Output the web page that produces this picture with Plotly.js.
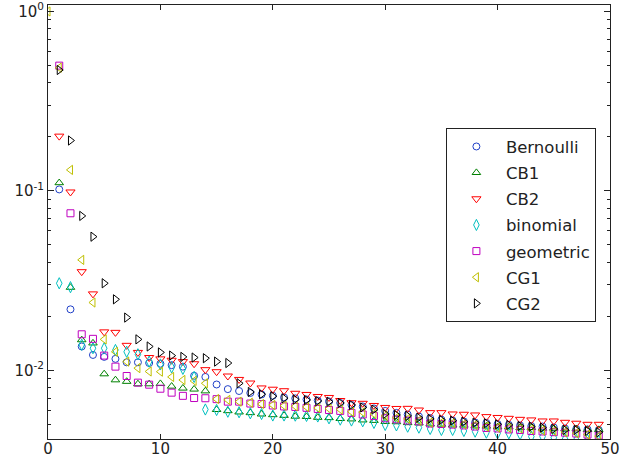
<!DOCTYPE html>
<html>
<head>
<meta charset="utf-8">
<script src="https://cdn.plot.ly/plotly-3.0.1.min.js"></script>
<style>html,body{margin:0;padding:0;background:#fff;}#chart{width:620px;height:458px;}</style>
</head>
<body>
<div id="chart"></div>
<script>
const lags = [1,2,3,4,5,6,7,8,9,10,11,12,13,14,15,16,17,18,19,20,21,22,23,24,25,26,27,28,29,30,31,32,33,34,35,36,37,38,39,40,41,42,43,44,45,46,47,48,49];
const lagsCG1 = [0,1,2,3,4,5,6,7,8,9,10,11,12,13,14,15,16,17,18,19,20,21,22,23,24,25,26,27,28,29,30,31,32,33,34,35,36,37,38,39,40,41,42,43,44,45,46,47,48,49];

const bernoulli = [0.102,0.0219,0.0136,0.0122,0.0119,0.0116,0.0111,0.0111,0.0110,0.0109,0.0107,0.0105,0.00934,0.00920,0.00835,0.00787,0.00768,0.00749,0.00735,0.00723,0.00707,0.00699,0.00689,0.00680,0.00672,0.00659,0.00642,0.00630,0.00614,0.00595,0.00580,0.00568,0.00554,0.00543,0.00532,0.00526,0.00520,0.00513,0.00510,0.00503,0.00498,0.00494,0.00490,0.00487,0.00481,0.00475,0.00472,0.00469,0.00466];
const cb1 = [0.111,0.0290,0.0148,0.0142,0.00956,0.00885,0.00868,0.00841,0.00841,0.00844,0.00816,0.00796,0.00786,0.00768,0.00605,0.00596,0.00586,0.00581,0.00571,0.00566,0.00561,0.00555,0.00553,0.00547,0.00545,0.00539,0.00536,0.00529,0.00526,0.00519,0.00517,0.00511,0.00509,0.00503,0.00501,0.00496,0.00495,0.00490,0.00489,0.00484,0.00484,0.00480,0.00480,0.00476,0.00476,0.00472,0.00472,0.00468,0.00468];
const cb2 = [0.202,0.0987,0.0355,0.0267,0.0164,0.0163,0.0138,0.0126,0.0118,0.0116,0.0114,0.0112,0.0109,0.0101,0.00984,0.00931,0.00891,0.00851,0.00799,0.00786,0.00771,0.00746,0.00735,0.00716,0.00707,0.00680,0.00661,0.00656,0.00638,0.00622,0.00614,0.00615,0.00602,0.00582,0.00582,0.00572,0.00570,0.00565,0.00553,0.00547,0.00541,0.00534,0.00530,0.00523,0.00523,0.00514,0.00508,0.00501,0.00501];
const binomial = [0.0306,0.0291,0.0139,0.0133,0.0133,0.0130,0.0127,0.0123,0.0112,0.0108,0.0104,0.0102,0.00920,0.00606,0.00602,0.00589,0.00585,0.00577,0.00572,0.00561,0.00561,0.00560,0.00558,0.00554,0.00541,0.00532,0.00526,0.00521,0.00510,0.00497,0.00494,0.00486,0.00480,0.00472,0.00466,0.00466,0.00460,0.00456,0.00450,0.00446,0.00446,0.00441,0.00428,0.00428,0.00422,0.00415,0.00410,0.00410,0.00405];
const geometric = [0.499,0.0751,0.0159,0.0150,0.0121,0.0105,0.00931,0.00855,0.00833,0.00791,0.00752,0.00722,0.00702,0.00700,0.00692,0.00670,0.00670,0.00654,0.00650,0.00638,0.00630,0.00626,0.00619,0.00610,0.00602,0.00595,0.00580,0.00568,0.00558,0.00541,0.00534,0.00526,0.00520,0.00506,0.00503,0.00499,0.00494,0.00487,0.00478,0.00475,0.00469,0.00466,0.00460,0.00457,0.00453,0.00450,0.00445,0.00439,0.00434];
const cg1 = [1.0,0.486,0.131,0.0413,0.0239,0.0149,0.0127,0.0112,0.0103,0.00987,0.00984,0.00920,0.00885,0.00874,0.00848,0.00693,0.00685,0.00670,0.00661,0.00650,0.00642,0.00636,0.00632,0.00626,0.00618,0.00612,0.00606,0.00589,0.00585,0.00572,0.00558,0.00545,0.00537,0.00525,0.00512,0.00512,0.00508,0.00501,0.00497,0.00486,0.00481,0.00478,0.00475,0.00469,0.00463,0.00460,0.00453,0.00447,0.00439,0.00430];
const cg2 = [0.472,0.191,0.0726,0.0556,0.0306,0.0249,0.0197,0.0149,0.0136,0.0126,0.0121,0.0119,0.0118,0.0117,0.0112,0.0110,0.00848,0.00759,0.00737,0.00718,0.00700,0.00689,0.00685,0.00676,0.00670,0.00659,0.00642,0.00622,0.00605,0.00572,0.00565,0.00558,0.00545,0.00537,0.00530,0.00525,0.00518,0.00512,0.00508,0.00501,0.00497,0.00490,0.00486,0.00480,0.00472,0.00466,0.00466,0.00460,0.00452];

const seriesNames = ['Bernoulli','CB1','CB2','binomial','geometric','CG1','CG2'];
const seriesX = [lags, lags, lags, lags, lags, lagsCG1, lags];
const seriesY = [bernoulli, cb1, cb2, binomial, geometric, cg1, cg2];
const colors = ['#2040c8','#008000','#ff0000','#00bfbf','#bf00bf','#bfbf00','#000000'];
const symbols = ['circle-open','triangle-up-open','triangle-down-open','diamond-tall-open','square-open','triangle-left-open','triangle-right-open'];
const sizes = [7,7.5,8,8,7,8,8];

const xTicks = [0,10,20,30,40,50];
const yTicks = [0.01,0.1,1];
const yTickText = ['10<sup>-2</sup>','10<sup>-1</sup>','10<sup>0</sup>'];
const yMinor = [0.005,0.006,0.007,0.008,0.009,0.02,0.03,0.04,0.05,0.06,0.07,0.08,0.09,0.2,0.3,0.4,0.5,0.6,0.7,0.8,0.9];

const traces = seriesNames.map((name, i) => ({
  type: 'scatter', mode: 'markers', name: name,
  x: seriesX[i], y: seriesY[i],
  legendgroup: 'g' + i,
  marker: {symbol: symbols[i], size: sizes[i], color: colors[i], line: {color: colors[i], width: 1}},
  hoverinfo: 'x+y'
}));

const tickFont = {family: 'DejaVu Sans, sans-serif', size: 15, color: '#222'};

const layout = {
  width: 620, height: 458,
  margin: {l: 48, r: 10, t: 5, b: 19, pad: 0},
  paper_bgcolor: '#fff', plot_bgcolor: '#fff',
  font: tickFont,
  showlegend: true,
  legend: {
    x: 0.708, y: 0.716, xanchor: 'left', yanchor: 'top',
    bgcolor: '#fff', bordercolor: '#222', borderwidth: 1,
    font: {family: 'DejaVu Sans, sans-serif', size: 16.5, color: '#222'},
    itemwidth: 49, tracegroupgap: 1.7
  },
  xaxis: {
    range: [0, 50], tickmode: 'array', tickvals: xTicks,
    ticks: 'inside', ticklen: 5, tickwidth: 1, tickcolor: '#222',
    showline: true, linecolor: '#222', linewidth: 1, mirror: 'ticks',
    showgrid: false, zeroline: false, ticklabelstandoff: -4,
    tickfont: tickFont
  },
  yaxis: {
    type: 'log', range: [-2.382, 0.036],
    tickmode: 'array', tickvals: yTicks, ticktext: yTickText,
    ticks: 'inside', ticklen: 6, tickwidth: 1, tickcolor: '#222',
    minor: {tickmode: 'array', tickvals: yMinor, ticks: 'inside', ticklen: 3, tickwidth: 1, tickcolor: '#222', showgrid: false},
    showline: true, linecolor: '#222', linewidth: 1, mirror: 'ticks',
    showgrid: false, zeroline: false,
    tickfont: tickFont
  }
};

Plotly.newPlot('chart', traces, layout, {staticPlot: true, displayModeBar: false});
</script>
</body>
</html>
